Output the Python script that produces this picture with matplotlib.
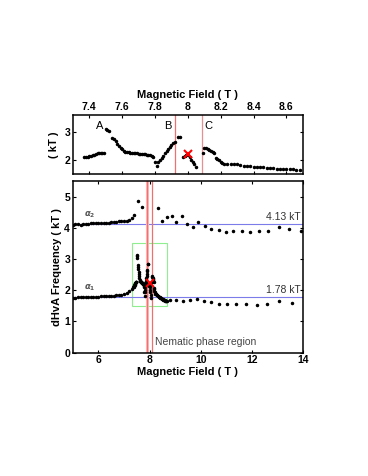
import matplotlib
matplotlib.use("Agg")
import matplotlib.pyplot as plt
from matplotlib.patches import Rectangle

# nematic-region alpha1 data (shown in the upper panel and inside the green box)
field_a = [7.37, 7.38, 7.39, 7.40, 7.41, 7.42, 7.43, 7.44, 7.45, 7.46, 7.47, 7.48, 7.49]
freq_a = [2.10, 2.11, 2.12, 2.14, 2.16, 2.18, 2.20, 2.22, 2.24, 2.25, 2.25, 2.26, 2.26]

field_b = [7.50, 7.51, 7.52, 7.54, 7.55, 7.56, 7.57, 7.58, 7.59, 7.60, 7.61, 7.62, 7.63,
           7.64, 7.65, 7.66, 7.67, 7.68, 7.69, 7.70, 7.71, 7.72, 7.73, 7.74, 7.75, 7.76,
           7.77, 7.78, 7.79, 7.80, 7.81, 7.82, 7.83, 7.84, 7.85, 7.86, 7.87, 7.88, 7.89,
           7.90, 7.91, 7.92, 7.94, 7.95]
freq_b = [3.12, 3.09, 3.03, 2.80, 2.74, 2.67, 2.59, 2.51, 2.44, 2.38, 2.33, 2.30, 2.29,
          2.28, 2.27, 2.26, 2.25, 2.25, 2.24, 2.23, 2.23, 2.22, 2.22, 2.21, 2.20, 2.19,
          2.18, 2.15, 2.10, 1.95, 1.80, 1.94, 2.00, 2.09, 2.16, 2.24, 2.31, 2.38, 2.46,
          2.53, 2.61, 2.64, 2.84, 2.84]

field_c = [7.97, 7.98, 7.99, 8.00, 8.01, 8.02, 8.03, 8.04, 8.05]
freq_c = [2.13, 2.16, 2.19, 2.17, 2.10, 2.02, 1.94, 1.86, 1.76]

field_d = [8.09, 8.10, 8.11, 8.12, 8.13, 8.14, 8.15, 8.16, 8.17, 8.18, 8.19, 8.20, 8.21,
           8.22, 8.24, 8.26, 8.28, 8.30, 8.32, 8.34, 8.36, 8.38, 8.40, 8.42, 8.44, 8.46,
           8.48, 8.50, 8.52, 8.54, 8.56, 8.58, 8.60, 8.62, 8.64, 8.66, 8.68]
freq_d = [2.25, 2.45, 2.42, 2.38, 2.35, 2.32, 2.29, 2.25, 2.06, 2.03, 1.99, 1.94, 1.90,
          1.88, 1.87, 1.87, 1.86, 1.85, 1.83, 1.81, 1.79, 1.78, 1.77, 1.76, 1.75, 1.74,
          1.73, 1.72, 1.71, 1.70, 1.69, 1.69, 1.68, 1.67, 1.67, 1.66, 1.65]

# alpha1 outside the nematic region
field_a1_low = [5.0, 5.1, 5.2, 5.3, 5.4, 5.5, 5.6, 5.7, 5.8, 5.9, 6.0, 6.1, 6.2, 6.3,
                6.4, 6.5, 6.6, 6.7, 6.8, 6.9, 7.0, 7.1, 7.2, 7.3]
freq_a1_low = [1.76, 1.76, 1.77, 1.77, 1.77, 1.78, 1.78, 1.78, 1.79, 1.79, 1.79, 1.80,
               1.80, 1.81, 1.81, 1.82, 1.83, 1.84, 1.85, 1.86, 1.89, 1.92, 1.97, 2.04]
field_a1_high = [8.82, 9.05, 9.31, 9.57, 9.84, 10.12, 10.40, 10.72, 11.04, 11.40, 11.77,
                 12.19, 12.60, 13.07, 13.57]
freq_a1_high = [1.69, 1.68, 1.67, 1.68, 1.72, 1.64, 1.62, 1.56, 1.56, 1.56, 1.56,
                1.53, 1.56, 1.64, 1.60]

# alpha2
field_a2 = [5.0, 5.1, 5.2, 5.3, 5.4, 5.5, 5.6, 5.7, 5.8, 5.9, 6.0, 6.1, 6.2, 6.3, 6.4,
            6.5, 6.6, 6.7, 6.8, 6.9, 7.0, 7.1, 7.2, 7.3, 7.4, 7.56, 7.71,
            8.33, 8.50, 8.67, 8.87, 9.05, 9.27, 9.47, 9.70, 9.91, 10.17, 10.42, 10.71,
            10.98, 11.27, 11.60, 11.93, 12.28, 12.65, 13.07, 13.47, 13.93]
freq_a2 = [4.10, 4.12, 4.12, 4.10, 4.13, 4.12, 4.13, 4.14, 4.14, 4.14, 4.15, 4.15, 4.15,
           4.16, 4.16, 4.17, 4.18, 4.19, 4.20, 4.20, 4.21, 4.23, 4.26, 4.32, 4.42, 4.86,
           4.65, 4.63, 4.22, 4.33, 4.38, 4.18, 4.36, 4.12, 4.02, 4.18, 4.06, 3.95, 3.92,
           3.85, 3.90, 3.90, 3.86, 3.90, 3.90, 4.01, 3.95, 3.91]

fit_a2 = 4.13
fit_a1 = 1.78
line_b = 7.92
line_c = 8.085
cross = (8.0, 2.22)

plt.rcParams['font.family'] = ['Liberation Sans', 'DejaVu Sans']
plt.rcParams['font.weight'] = 'bold'
plt.rcParams['font.size'] = 7.5

fig = plt.figure(figsize=(3.68, 4.76), dpi=100)
ax1 = fig.add_axes([0.198, 0.634, 0.625, 0.124])
ax2 = fig.add_axes([0.198, 0.259, 0.625, 0.361])

nem_x = field_a + field_b + field_c + field_d
nem_y = freq_a + freq_b + freq_c + freq_d

# upper panel
ax1.axvline(line_b, color='#f07070', lw=0.9)
ax1.axvline(line_c, color='#e89090', lw=0.9)
ax1.plot(nem_x, nem_y, 'o', color='black', ms=1.5, ls='none')
ax1.plot(*cross, 'x', color='red', ms=6, mew=1.5)
ax1.text(7.44, 3.1, 'A', fontsize=8, fontweight='normal')
ax1.text(7.855, 3.1, 'B', fontsize=8, fontweight='normal')
ax1.text(8.10, 3.1, 'C', fontsize=8, fontweight='normal')
ax1.set_xlim(7.3, 8.7)
ax1.set_ylim(1.5, 3.6)
ax1.set_xticks([7.4, 7.6, 7.8, 8.0, 8.2, 8.4, 8.6])
ax1.set_xticklabels(['7.4', '7.6', '7.8', '8', '8.2', '8.4', '8.6'])
ax1.set_yticks([2, 3])
ax1.xaxis.set_label_position('top')
ax1.tick_params(axis='x', labeltop=True, labelbottom=False)
ax1.set_xlabel('Magnetic Field ( T )', fontsize=8, fontweight='bold', labelpad=3)
ax1.set_ylabel('( kT )', fontsize=8, fontweight='bold', labelpad=4)

# lower panel
ax2.axhline(fit_a2, color='#7b7bea', lw=0.8)
ax2.axhline(fit_a1, color='#7b7bea', lw=0.8)
ax2.axvline(line_b - 0.02, color='#ffb0b0', lw=2.2)
ax2.axvline(line_b, color='#f07070', lw=0.7)
ax2.axvline(line_c, color='#f07070', lw=0.9)
ax2.add_patch(Rectangle((7.3, 1.5), 1.4, 2.0, fill=False, edgecolor='#90ee90', lw=0.8))
ax2.plot(field_a2, freq_a2, 'o', color='black', ms=1.5, ls='none')
ax2.plot(field_a1_low + nem_x + field_a1_high, freq_a1_low + nem_y + freq_a1_high,
         'o', color='black', ms=1.5, ls='none')
ax2.plot(*cross, 'x', color='red', ms=5.5, mew=1.4)
ax2.text(5.45, 4.35, r'$\alpha_2$', fontsize=6, color='#555555', fontweight='normal')
ax2.text(5.45, 2.02, r'$\alpha_1$', fontsize=6, color='#555555', fontweight='normal')
ax2.text(13.9, 4.25, '%.2f kT' % fit_a2, ha='right', fontsize=7.5, fontweight='normal', color='#333333')
ax2.text(13.9, 1.9, '%.2f kT' % fit_a1, ha='right', fontsize=7.5, fontweight='normal', color='#333333')
ax2.text(8.2, 0.25, 'Nematic phase region', fontsize=7.5, fontweight='normal', color='#444444')
ax2.set_xlim(5, 14)
ax2.set_ylim(0, 5.5)
ax2.set_xticks([6, 8, 10, 12, 14])
ax2.set_yticks([0, 1, 2, 3, 4, 5])
ax2.set_xlabel('Magnetic Field ( T )', fontsize=8, fontweight='bold', labelpad=1)
ax2.set_ylabel('dHvA Frequency ( kT )', fontsize=8, fontweight='bold', labelpad=2)

for ax in (ax1, ax2):
    ax.tick_params(direction='in', top=True, right=True, length=2.5, width=0.8, pad=2)
    for s in ax.spines.values():
        s.set_linewidth(1.1)

fig.savefig('out.png', dpi=100)
